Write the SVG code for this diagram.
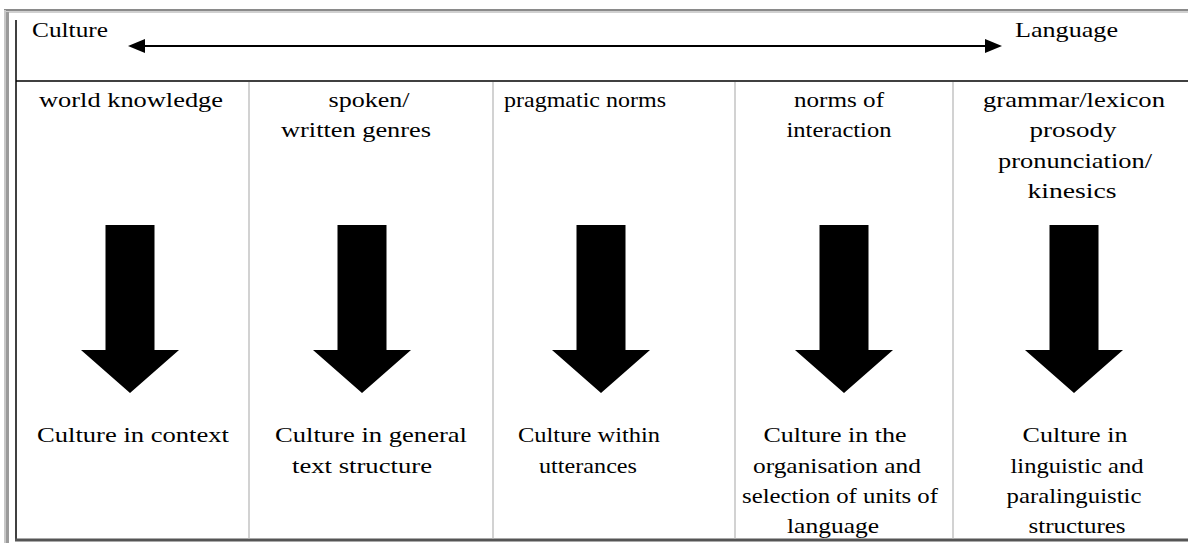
<svg xmlns="http://www.w3.org/2000/svg" width="1188" height="543" viewBox="0 0 1188 543">
<style>
text{font-family:'Liberation Serif','Times New Roman',serif;font-size:22px;fill:#000}
.t{text-anchor:middle}
.ts{text-anchor:start}
.sep{stroke:#b4b4b4;stroke-width:1.2}
.frame{stroke:#000;stroke-width:1.5;fill:none}
</style>
<defs>
<marker id="ah" viewBox="0 0 17 14" refX="0" refY="7" markerWidth="17" markerHeight="14" orient="auto-start-reverse" markerUnits="userSpaceOnUse"><path d="M0,0 L17,7 L0,14 Z" fill="#000"/></marker>
<path id="barrow" d="M-24.5,225 H24.5 V350 H49 L0,393 L-49,350 H-24.5 Z" fill="#000"/>
</defs>
<rect width="1188" height="543" fill="#fff"/>
<g id="frame">
<line x1="4" y1="10" x2="1188" y2="10" stroke="#8a8a8a" stroke-width="2"/>
<line x1="6" y1="12" x2="1188" y2="12" stroke="#d0d0d0" stroke-width="2"/>
<line x1="5" y1="10" x2="5" y2="543" stroke="#c8c8c8" stroke-width="2"/>
<line x1="7.5" y1="12" x2="7.5" y2="543" stroke="#9a9a9a" stroke-width="3"/>
<line x1="16" y1="20" x2="16" y2="541" class="frame"/>
<line x1="16" y1="81" x2="1188" y2="81" class="frame"/>
<line x1="15" y1="540" x2="1188" y2="540" stroke="#555" stroke-width="3"/>
<line x1="249" y1="82" x2="249" y2="539" class="sep"/>
<line x1="493" y1="82" x2="493" y2="539" class="sep"/>
<line x1="735" y1="82" x2="735" y2="539" class="sep"/>
<line x1="953" y1="82" x2="953" y2="539" class="sep"/>
</g>
<g id="culture"><text class="ts" x="32" y="37" textLength="76" lengthAdjust="spacingAndGlyphs">Culture</text></g>
<g id="language"><text class="ts" x="1015" y="37" textLength="103" lengthAdjust="spacingAndGlyphs">Language</text></g>
<g id="connectors">
<line x1="145" y1="46" x2="985" y2="46" stroke="#000" stroke-width="2" marker-start="url(#ah)" marker-end="url(#ah)"/>
</g>
<g id="col1">
<text class="t" x="131" y="107" textLength="184" lengthAdjust="spacingAndGlyphs">world knowledge</text>
<use href="#barrow" x="130"/>
<text class="t" x="133" y="442" textLength="192" lengthAdjust="spacingAndGlyphs">Culture in context</text>
</g>
<g id="col2">
<text class="t" x="369" y="107" textLength="81" lengthAdjust="spacingAndGlyphs">spoken/</text>
<text class="t" x="356" y="137" textLength="150" lengthAdjust="spacingAndGlyphs">written genres</text>
<use href="#barrow" x="362"/>
<text class="t" x="371" y="442" textLength="192" lengthAdjust="spacingAndGlyphs">Culture in general</text>
<text class="t" x="362" y="473" textLength="140" lengthAdjust="spacingAndGlyphs">text structure</text>
</g>
<g id="col3">
<text class="t" x="585" y="107" textLength="162" lengthAdjust="spacingAndGlyphs">pragmatic norms</text>
<use href="#barrow" x="601"/>
<text class="t" x="589" y="442" textLength="142" lengthAdjust="spacingAndGlyphs">Culture within</text>
<text class="t" x="588" y="473" textLength="98" lengthAdjust="spacingAndGlyphs">utterances</text>
</g>
<g id="col4">
<text class="t" x="839" y="107" textLength="90" lengthAdjust="spacingAndGlyphs">norms of</text>
<text class="t" x="839" y="137" textLength="105" lengthAdjust="spacingAndGlyphs">interaction</text>
<use href="#barrow" x="844"/>
<text class="t" x="835" y="442" textLength="143" lengthAdjust="spacingAndGlyphs">Culture in the</text>
<text class="t" x="837" y="473" textLength="168" lengthAdjust="spacingAndGlyphs">organisation and</text>
<text class="t" x="840" y="503" textLength="196" lengthAdjust="spacingAndGlyphs">selection of units of</text>
<text class="t" x="833" y="533" textLength="92" lengthAdjust="spacingAndGlyphs">language</text>
</g>
<g id="col5">
<text class="t" x="1074" y="107" textLength="182" lengthAdjust="spacingAndGlyphs">grammar/lexicon</text>
<text class="t" x="1073" y="137" textLength="87" lengthAdjust="spacingAndGlyphs">prosody</text>
<text class="t" x="1075" y="168" textLength="154" lengthAdjust="spacingAndGlyphs">pronunciation/</text>
<text class="t" x="1072" y="198" textLength="89" lengthAdjust="spacingAndGlyphs">kinesics</text>
<use href="#barrow" x="1074"/>
<text class="t" x="1075" y="442" textLength="105" lengthAdjust="spacingAndGlyphs">Culture in</text>
<text class="t" x="1077" y="473" textLength="133" lengthAdjust="spacingAndGlyphs">linguistic and</text>
<text class="t" x="1074" y="503" textLength="135" lengthAdjust="spacingAndGlyphs">paralinguistic</text>
<text class="t" x="1077" y="533" textLength="97" lengthAdjust="spacingAndGlyphs">structures</text>
</g>
</svg>
